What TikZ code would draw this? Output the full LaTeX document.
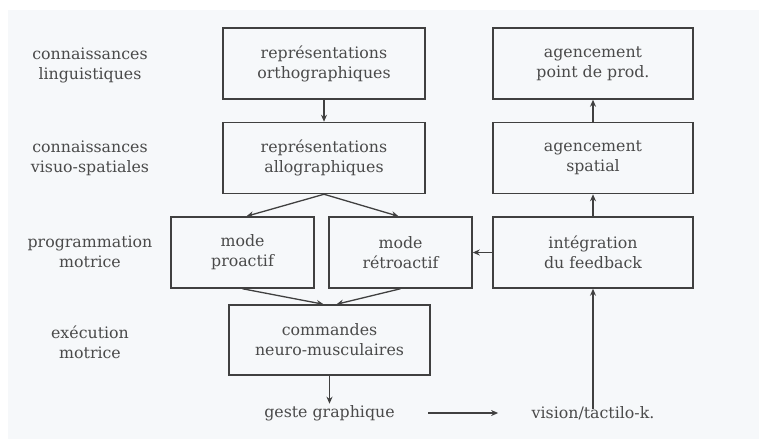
\documentclass[tikz,border=0pt]{standalone}
\usepackage{fontspec}
\setmainfont{DejaVu Serif}
\usetikzlibrary{arrows.meta, positioning, calc}
\definecolor{scan-ink}{HTML}{404040}
\definecolor{scan-text}{HTML}{4A4A4A}
\definecolor{scan-paper}{HTML}{F6F8FA}

\begin{document}
\begin{tikzpicture}[x=1pt, y=-1pt,
    box/.style={draw=scan-ink, line width=1.5pt, minimum height=71pt,
                align=center, inner sep=0pt, text=scan-text,
                font=\fontsize{15.8}{20}\selectfont},
    level/.style={align=center, text=scan-text, font=\fontsize{15.8}{20}\selectfont},
    flow/.style={draw=scan-ink, line width=1.3pt, -{Stealth[length=7pt,width=6pt]}}]
  \useasboundingbox (0,0) rectangle (759,439);
  \fill[white] (0,0) rectangle (759,439);
  \fill[scan-paper] (8,10) rectangle (759,439);

  % levels
  \node[level] (lv-ling) at (90,65)  {connaissances\\linguistiques};
  \node[level] (lv-visu) at (90,158) {connaissances\\visuo-spatiales};
  \node[level] (lv-prog) at (90,252) {programmation\\motrice};
  \node[level] (lv-exec) at (90,342) {exécution\\motrice};

  % boxes
  \node[box, minimum width=202pt] (orth) at (324,63.5) {représentations\\orthographiques};
  \node[box, minimum width=202pt] (allo) at (324,158) {représentations\\allographiques};
  \node[box, minimum width=143pt] (proactif) at (242.5,252.5) {mode\\proactif};
  \node[box, minimum width=143pt] (retro) at (400.5,252.5) {mode\\rétroactif};
  \node[box, minimum width=201pt, minimum height=70pt] (cmd) at (329.5,340) {commandes\\neuro-musculaires};
  \node[box, minimum width=200pt] (point) at (593,63.5) {agencement\\point de prod.};
  \node[box, minimum width=200pt] (spatial) at (593,158) {agencement\\spatial};
  \node[box, minimum width=200pt] (integ) at (593,252.5) {intégration\\du feedback};

  \node[level] (geste) at (329.5,413) {geste graphique};
  \node[level] (vision) at (593,413) {vision/tactilo-k.};

  % connectors
  \draw[flow] (orth) -- (allo);
  \draw[flow] (allo.south) -- ([xshift=4pt]proactif.north);
  \draw[flow] (allo.south) -- ([xshift=-2pt]retro.north);
  \draw[flow] (proactif.south) -- ([xshift=-6pt]cmd.north);
  \draw[flow] (retro.south) -- ([xshift=7pt]cmd.north);
  \draw[flow] (cmd) -- ([yshift=-2pt]geste.north);
  \draw[flow, shorten <=30pt, shorten >=30pt] (geste) -- (vision);
  \draw[flow] ([yshift=-6pt]vision.north) -- (integ);
  \draw[flow] (integ) -- (retro);
  \draw[flow] (integ) -- (spatial);
  \draw[flow] (spatial) -- (point);
\end{tikzpicture}
\end{document}
